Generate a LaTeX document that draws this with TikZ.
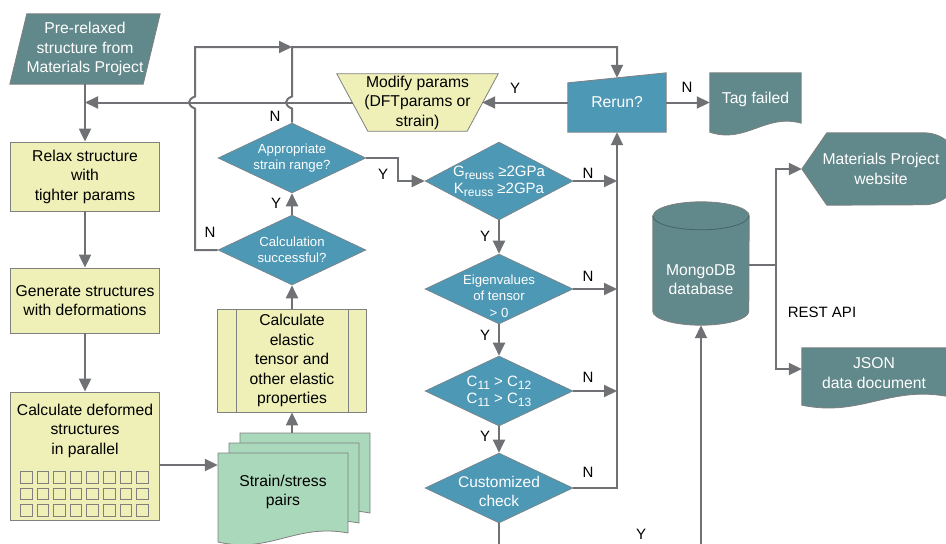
\documentclass[tikz,border=0pt]{standalone}
\usepackage{fontspec}
\setmainfont{Liberation Sans}
\usetikzlibrary{shapes.geometric,arrows.meta}
\pgfdeclarelayer{background}
\pgfsetlayers{background,main}
\definecolor{mpteal}{RGB}{97,136,138}
\definecolor{mpblue}{RGB}{77,152,181}
\definecolor{mpyellow}{RGB}{238,240,183}
\definecolor{mpgreen}{RGB}{170,216,187}
\definecolor{mpline}{RGB}{112,113,117}
\definecolor{mpborder}{RGB}{128,128,128}
\definecolor{mpdark}{RGB}{70,100,102}
\newcommand{\lowtext}[1]{\raisebox{-3pt}{\fontsize{12}{12}\selectfont #1}}
\newcommand{\smalltxt}{\fontsize{13.2}{16.5}\selectfont}
\newcommand{\lowered}[2]{\raisebox{#1}[0pt][0pt]{\begin{tabular}{@{}c@{}}#2\end{tabular}}}

\tikzset{
  flow/.style={draw=mpline, line width=2pt, -{Triangle[length=13pt,width=12pt]}},
  ybox/.style={rectangle, draw=mpborder, fill=mpyellow, line width=0.8pt, align=center, inner sep=0pt},
  decision/.style={diamond, draw=mpborder, fill=mpblue, line width=0.6pt, text=white,
    align=center, inner sep=-14pt, minimum width=148pt, minimum height=70pt,
    font=\fontsize{15}{17}\selectfont},
  tealtext/.style={align=center, text=white, inner sep=0pt},
  tealfill/.style={fill=mpteal, draw=mpborder, line width=0.8pt},
  bluefill/.style={fill=mpblue, draw=mpborder, line width=0.8pt},
  sheet/.style={fill=mpgreen, draw=mpborder, line width=0.8pt},
  gridcell/.style={draw=mpborder, line width=1pt},
  yn/.style={text=black, inner sep=0pt, font=\fontsize{15}{17}\selectfont}
}

\begin{document}
\begin{tikzpicture}[x=1pt, y=1pt, font=\fontsize{15.7}{19.5}\selectfont]
\useasboundingbox (0,0) rectangle (946,-544);
\clip (0,0) rectangle (946,-544);

\node[tealtext, minimum width=150pt, minimum height=70pt] (pre) at (85,-49) {Pre-relaxed\\structure from\\Materials Project};
\node[ybox, minimum width=149pt, minimum height=69pt] (relax) at (85,-176.5) {Relax structure\\with\\tighter params};
\node[ybox, minimum width=149pt, minimum height=65pt] (gen) at (85,-300.5) {Generate structures\\with deformations};
\node[ybox, minimum width=149pt, minimum height=128pt] (deform) at (85,-456) {};
\node[align=center, inner sep=0pt] (deformtxt) at (85,-430.5) {Calculate deformed\\structures\\in parallel};
\foreach \i in {0,...,7}
  \foreach \j in {0,1,2}
    \draw[gridcell] ({20.5+16.6*\i},{-471.5-16.7*\j}) rectangle ++(11.5,-11.5);

\node[align=center, inner sep=0pt, minimum width=130pt, minimum height=78pt] (pairs) at (283,-492) {Strain/stress\\pairs};

\node[ybox, minimum width=149pt, minimum height=103pt] (calc) at (292,-360.5) {Calculate\\elastic\\tensor and\\other elastic\\properties};
\draw[draw=mpborder, line width=0.8pt] ([xshift=19pt]calc.north west) -- ([xshift=19pt]calc.south west)
  ([xshift=-19pt]calc.north east) -- ([xshift=-19pt]calc.south east);

\node[decision, font=\smalltxt] (succ) at (292,-250) {Calculation\\successful?};
\node[decision, font=\smalltxt] (range) at (292,-158) {Appropriate\\strain range?};

\node[align=center, inner sep=0pt, minimum width=161pt, minimum height=57pt] (modify) at (417.5,-102.5) {Modify params\\(DFTparams or\\strain)};
\node[tealtext, minimum width=98pt, minimum height=59pt] (rerun) at (617,-102.5) {Rerun?};
\node[tealtext, minimum width=91pt, minimum height=52pt] (tag) at (755.5,-99) {Tag failed};

\node[decision, minimum height=78pt] (greuss) at (499,-181) {G\lowtext{reuss} ≥2GPa\\K\lowtext{reuss} ≥2GPa};
\node[decision, font=\smalltxt] (eigen) at (499,-289) {\lowered{-11.5pt}{Eigenvalues\\of tensor\\> 0}};
\node[decision] (cmat) at (499,-391) {C\lowtext{11} > C\lowtext{12}\\C\lowtext{11} > C\lowtext{13}};
\node[decision, font=\fontsize{15.5}{19}\selectfont] (custom) at (499,-488) {\lowered{-8.5pt}{Customized\\check}};

\node[minimum width=96pt, minimum height=123pt, inner sep=0pt] (db) at (701,-263.5) {};
\node[tealtext] (dbtxt) at (701,-279.5) {MongoDB\\database};
\node[tealtext, minimum width=158pt, minimum height=72pt] (web) at (881,-169) {Materials Project\\website};
\node[tealtext, minimum width=144pt, minimum height=50pt] (json) at (874,-373) {JSON\\data document};

\begin{pgfonlayer}{background}
\clip (0,0) rectangle (946,-544);
\filldraw[tealfill] ([xshift=17pt]pre.north west) -- (pre.north east) -- ([xshift=-17pt]pre.south east) -- (pre.south west) -- cycle;
\filldraw[fill=mpyellow, draw=mpborder, line width=0.8pt] (modify.north west) -- (modify.north east)
  -- ([xshift=-31pt]modify.south east) -- ([xshift=31pt]modify.south west) -- cycle;
\filldraw[bluefill] (rerun.south west) -- ([yshift=-10pt]rerun.north west) -- (rerun.north east) -- (rerun.south east) -- cycle;
\filldraw[tealfill] (tag.north west) -- (tag.north east) -- ([yshift=2pt]tag.south east)
  .. controls +(-36,10) and +(36,-12) .. ([yshift=-7pt]tag.south west) -- cycle;
\filldraw[tealfill] (json.north west) -- (json.north east) -- ([yshift=2pt]json.south east)
  .. controls +(-58,10) and +(58,-12) .. ([yshift=-7pt]json.south west) -- cycle;
\filldraw[tealfill] (web.west) -- ([xshift=25pt]web.north west) -- ([xshift=-36pt]web.north east)
  arc[start angle=90, end angle=-90, radius=36] -- ([xshift=25pt]web.south west) -- cycle;
\filldraw[tealfill] ([yshift=-14pt]db.north west) -- ([yshift=14pt]db.south west)
  arc[start angle=180, end angle=360, x radius=48, y radius=14] -- ([yshift=-14pt]db.north east)
  arc[start angle=0, end angle=180, x radius=48, y radius=14] -- cycle;
\draw[mpdark, line width=0.8pt] ([yshift=-14pt]db.north west) arc[start angle=180, end angle=360, x radius=48, y radius=14];
\foreach \k in {2,1,0}
  \filldraw[sheet] ({218+11*\k},{-453+10*\k}) -- ++(130,0) -- ++(0,-80)
    .. controls +(-52,10) and +(52,-12) .. ({218+11*\k},{-542+10*\k}) -- cycle;
\end{pgfonlayer}

\coordinate (loopl) at (195,-47);
\coordinate (top) at (292,-47);
\coordinate (hopl) at (loopl |- modify.west);
\coordinate (hopr) at (top |- modify.west);
\coordinate (dout) at ([yshift=-9pt]deform.east);
\coordinate (pin) at ([yshift=20pt]pairs.north);
\coordinate (dbout) at ([yshift=-1.5pt]db.east);

\draw[flow] (pre.south) -- (relax.north);
\draw[flow] (relax.south) -- (gen.north);
\draw[flow] (gen.south) -- (deform.north);
\draw[flow] (dout) -- (dout -| pairs.west);
\draw[flow] (pin -| calc.south) -- (calc.south);
\draw[flow] (calc.north) -- (succ.south);
\draw[flow] (succ.north) -- (range.south);
\draw[flow] (succ.west) -| ([yshift=-6pt]hopl) .. controls +(-8,3) and +(-8,-3) .. ([yshift=6pt]hopl) -- (loopl) -- (top);
\draw[flow] (range.north) -- ([yshift=-6pt]hopr) .. controls +(-8,3) and +(-8,-3) .. ([yshift=6pt]hopr)
  -- (top) -- (top -| rerun.north) -- ([yshift=-5pt]rerun.north);
\draw[flow] (rerun.west) -- ([xshift=-16pt]modify.east);
\draw[flow] ([xshift=16pt]modify.west) -- (modify.west -| relax.north);
\draw[flow] (rerun.east) -- (rerun.east -| tag.west);
\draw[flow] (range.east) -- ++(32,0) |- (greuss.west);
\draw[flow] (greuss.south) -- (eigen.north);
\draw[flow] (eigen.south) -- (cmat.north);
\draw[flow] (cmat.south) -- (custom.north);
\draw[flow] (greuss.east) -- (greuss.east -| rerun.south);
\draw[flow] (eigen.east) -- (eigen.east -| rerun.south);
\draw[flow] (cmat.east) -- (cmat.east -| rerun.south);
\draw[flow] (custom.east) -| (rerun.south);
\draw[flow] (custom.south) -- ++(0,-40) -| (db.south);
\draw[flow] (dbout) -- ++(27,0) coordinate (hub) |- (web.west);
\draw[flow] (hub) |- ([yshift=4pt]json.west);

\node[yn] (nsucc) at (210,-232) {N};
\node[yn] (ysucc) at (276,-203) {Y};
\node[yn] (nrange) at (275,-116) {N};
\node[yn] (yrange) at (383,-174) {Y};
\node[yn] (ymod) at (515,-88) {Y};
\node[yn] (ntag) at (687,-87) {N};
\node[yn] (ngre) at (588,-173) {N};
\node[yn] (ygre) at (485,-236) {Y};
\node[yn] (neig) at (588,-276) {N};
\node[yn] (yeig) at (485,-335) {Y};
\node[yn] (ncm) at (588,-377) {N};
\node[yn] (ycm) at (485,-436) {Y};
\node[yn] (ncus) at (588,-472) {N};
\node[yn] (ycus) at (641,-534) {Y};
\node[yn] (rest) at (822,-312) {REST API};
\end{tikzpicture}
\end{document}
